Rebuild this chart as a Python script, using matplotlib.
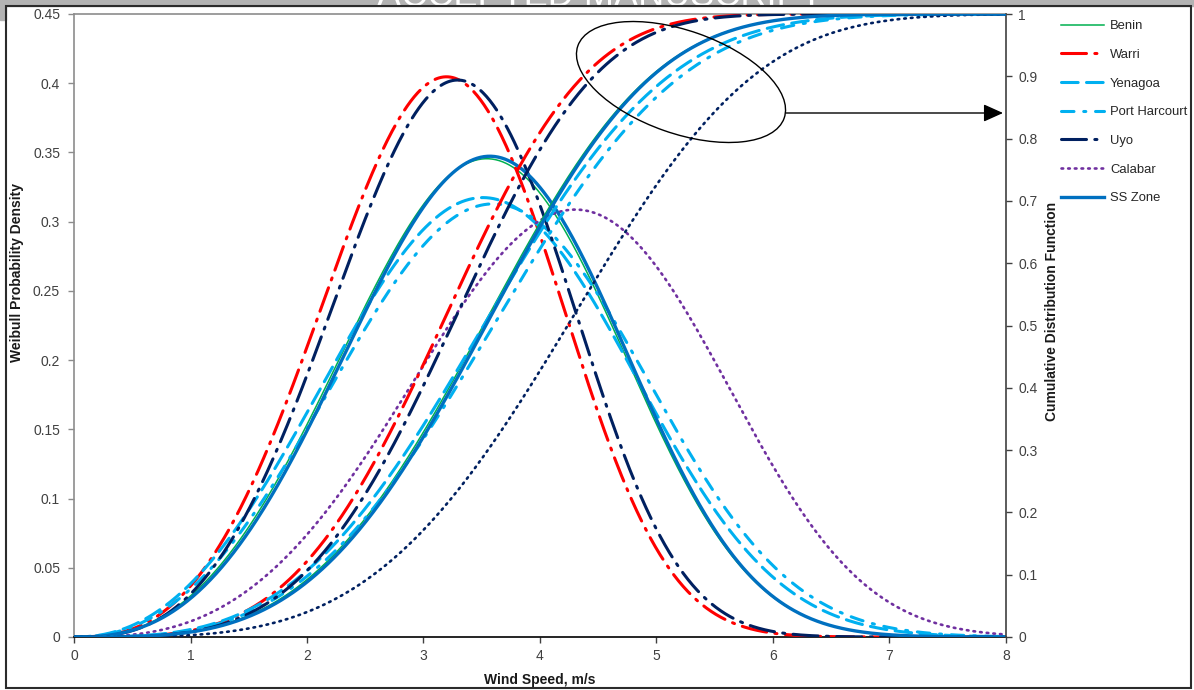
import numpy as np
import matplotlib
matplotlib.use("Agg")
import matplotlib.pyplot as plt
from matplotlib.lines import Line2D
from matplotlib.patches import Ellipse, Rectangle
from matplotlib.ticker import FormatStrFormatter

plt.rcParams['font.family'] = ['Liberation Sans', 'DejaVu Sans']
plt.rcParams['lines.scale_dashes'] = False

# ---- data: Weibull parameters per site ----
sites = ['Benin', 'Warri', 'Yenagoa', 'Port Harcourt', 'Uyo', 'Calabar', 'SS Zone']
shape_k = [3.50, 3.68, 3.22, 3.25, 3.76, 3.77, 3.54]
scale_c = [3.90, 3.485, 3.94, 4.03, 3.575, 4.67, 3.92]
x_ticks = [0, 1, 2, 3, 4, 5, 6, 7, 8]
pdf_ticks = [0, 0.05, 0.1, 0.15, 0.2, 0.25, 0.3, 0.35, 0.4, 0.45]
cdf_ticks = [0, 0.1, 0.2, 0.3, 0.4, 0.5, 0.6, 0.7, 0.8, 0.9, 1]

# ---- styles ----
styles = {
    'Benin':         dict(color='#00B050', lw=1.1, dashes=None),
    'Warri':         dict(color='#FF0000', lw=2.2, dashes=(18, 6, 1.5, 6)),
    'Yenagoa':       dict(color='#00B0F0', lw=2.2, dashes=(12, 6)),
    'Port Harcourt': dict(color='#00B0F0', lw=2.2, dashes=(9, 7, 1.5, 7)),
    'Uyo':           dict(color='#002060', lw=2.2, dashes=(18, 6, 1.5, 6)),
    'Calabar':       dict(color='#7030A0', lw=1.9, dashes=(1.2, 3.6)),
    'SS Zone':       dict(color='#0070C0', lw=2.4, dashes=None),
}
cdf_color_override = {'Calabar': '#002060'}

W, H = 1194, 690
fig = plt.figure(figsize=(W / 100, H / 100), dpi=100)
ax = fig.add_axes([74 / W, 1 - 637 / H, (1006 - 74) / W, (637 - 14) / H])
ax2 = ax.twinx()

v = np.linspace(0, 8, 801)

def draw(axis, y, st, color, z):
    line, = axis.plot(v, y, color=color, lw=st['lw'], zorder=z,
                      solid_capstyle='butt', dash_capstyle='round')
    if st['dashes'] is not None:
        line.set_dashes(st['dashes'])
    return line

handles = []
for i, (name, k, c) in enumerate(zip(sites, shape_k, scale_c)):
    st = styles[name]
    z = 3 + i
    pdf = (k / c) * (v / c) ** (k - 1) * np.exp(-(v / c) ** k)
    cdf = 1 - np.exp(-(v / c) ** k)
    draw(ax, pdf, st, st['color'], z)
    draw(ax2, cdf, st, cdf_color_override.get(name, st['color']), z)
    h = Line2D([], [], color=st['color'], lw=st['lw'], dash_capstyle='round')
    if st['dashes'] is not None:
        h.set_dashes(st['dashes'])
    handles.append(h)

ax.set_xlim(0, 8)
ax.set_ylim(0, 0.45)
ax2.set_ylim(0, 1)
ax.set_xticks(x_ticks)
ax.set_yticks(pdf_ticks)
ax2.set_yticks(cdf_ticks)
ax.yaxis.set_major_formatter(FormatStrFormatter('%g'))
ax2.yaxis.set_major_formatter(FormatStrFormatter('%g'))

for s in ['top', 'left']:
    ax.spines[s].set_color('#8c8c8c')
ax.spines['bottom'].set_color('black')
ax.spines['right'].set_visible(False)
for s in ['top', 'left', 'bottom']:
    ax2.spines[s].set_visible(False)
ax2.spines['right'].set_color('#404040')
for sp in list(ax.spines.values()) + list(ax2.spines.values()):
    sp.set_linewidth(1.2)

ax.tick_params(axis='y', direction='out', length=4, width=1, color='#8c8c8c',
               labelsize=10, labelcolor='#404040', pad=6)
ax.tick_params(axis='x', direction='out', length=4, width=1, color='#404040',
               labelsize=10, labelcolor='#404040', pad=5)
ax2.tick_params(axis='y', direction='out', length=4, width=1, color='#404040',
                labelsize=10, labelcolor='#404040', pad=5)

# axis titles
fig.text(17 / W, 1 - 273 / H, 'Weibull Probability Density', rotation=90,
         ha='center', va='center', fontsize=10, fontweight='bold', color='#1a1a1a')
fig.text(1052 / W, 1 - 311 / H, 'Cumulative Distribution Function', rotation=90,
         ha='center', va='center', fontsize=10, fontweight='bold', color='#1a1a1a')
fig.text(540 / W, 1 - 680 / H, 'Wind Speed, m/s', ha='center', va='center',
         fontsize=10, fontweight='bold', color='#1a1a1a')

# legend
fig.legend(handles, sites, loc='upper left', bbox_to_anchor=(1061 / W, 1 - 20 / H),
           frameon=False, fontsize=9.4, handlelength=3.3, handletextpad=0.45,
           labelspacing=1.27, borderpad=0, borderaxespad=0, labelcolor='#262626')

# ellipse + arrow annotation
fig.add_artist(Ellipse((681 / 100, (H - 82) / 100), 218.6 / 100, 102.8 / 100,
                       angle=-19.3, fill=False, lw=1.0, color='black',
                       transform=fig.dpi_scale_trans, zorder=20))
fig.add_artist(matplotlib.patches.FancyArrowPatch(
    (786 / W, 1 - 113 / H), (1003 / W, 1 - 113 / H), transform=fig.transFigure,
    arrowstyle='-|>,head_length=0.6,head_width=0.27', mutation_scale=20,
    color='black', lw=1.0, shrinkA=0, shrinkB=0, zorder=20))

# page decorations: grey band with watermark and frame
fig.add_artist(Rectangle((0, 1 - 6 / H), 1, 6 / H, transform=fig.transFigure,
                         color='#b3b3b3', zorder=30))
fig.add_artist(Rectangle((0, 1 - 20 / H), 6 / W, 20 / H, transform=fig.transFigure,
                         color='#b3b3b3', zorder=30))
fig.text(600 / W, 1 - 6 / H, 'ACCEPTED MANUSCRIPT', ha='center', va='baseline',
         fontsize=26, color='white', zorder=31)
fig.add_artist(Rectangle((6 / W, 2 / H), (1191 - 6) / W, (684 - 2) / H,
                         transform=fig.transFigure, fill=False, lw=1.5,
                         edgecolor='#2b2b2b', zorder=32))

fig.savefig('out.png', dpi=100)
